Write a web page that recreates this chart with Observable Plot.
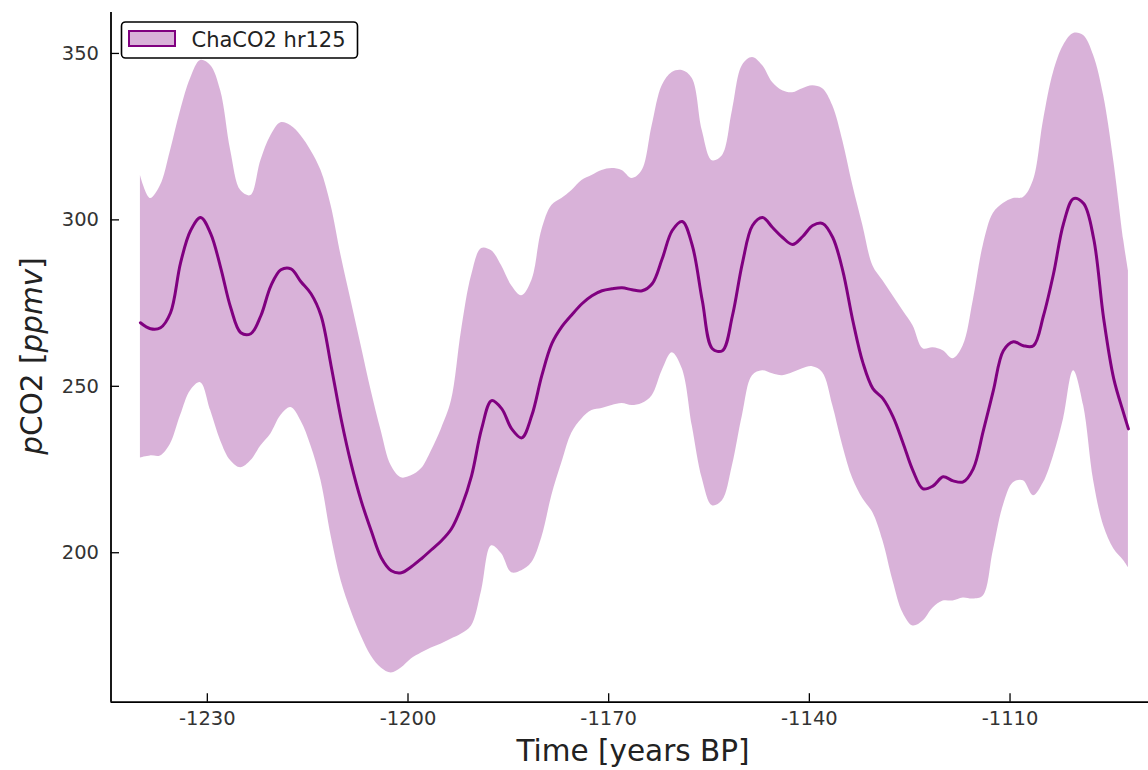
<!DOCTYPE html>
<html>
<head>
<meta charset="utf-8">
<script src="https://cdn.jsdelivr.net/npm/d3@7"></script>
<script src="https://cdn.jsdelivr.net/npm/@observablehq/plot@0.6"></script>
<style>
  body { margin: 0; background: #fff; }
  #chart { width: 1148px; height: 770px; }
</style>
</head>
<body>
<div id="chart"></div>
<script>
// Reconstructed pCO2 (ppmv) through time, with its uncertainty envelope
const years = [
  -1240, -1238.5, -1237, -1235.5, -1234, -1232.5, -1231, -1229.5, -1228, -1226.5,
  -1225, -1223.5, -1222, -1220.5, -1219, -1217.5, -1216, -1214.5, -1213, -1211.5,
  -1210, -1208.5, -1207, -1205.5, -1204, -1202.5, -1201, -1199.5, -1198, -1196.5,
  -1195, -1193.5, -1192, -1190.5, -1189, -1187.5, -1186, -1184.5, -1183, -1181.5,
  -1180, -1178.5, -1177, -1175.5, -1174, -1172.5, -1171, -1169.5, -1168, -1166.5,
  -1165, -1163.5, -1162, -1160.5, -1159, -1157.5, -1156, -1154.5, -1153, -1151.5,
  -1150, -1148.5, -1147, -1145.5, -1144, -1142.5, -1141, -1139.5, -1138, -1136.5,
  -1135, -1133.5, -1132, -1130.5, -1129, -1127.5, -1126, -1124.5, -1123, -1121.5,
  -1120, -1118.5, -1117, -1115.5, -1114, -1112.5, -1111, -1109.5, -1108, -1106.5,
  -1105, -1103.5, -1102, -1100.5, -1099, -1097.5, -1096, -1094.5, -1093, -1092.3
];

const co2Mean = [
  269.1, 267.3, 267.6, 272.1, 287.1, 296.8, 300.7, 295.9, 285.6, 273.6,
  266.1, 265.8, 271.2, 280.2, 285.0, 285.3, 281.4, 277.8, 271.2, 256.2,
  240.2, 226.7, 215.6, 206.6, 198.5, 194.6, 194.0, 195.8, 198.2, 200.9,
  203.6, 207.2, 213.8, 223.1, 237.2, 245.7, 243.3, 237.2, 234.5, 241.2,
  253.2, 262.8, 267.9, 271.5, 274.8, 277.2, 278.7, 279.3, 279.6, 279.0,
  278.7, 280.8, 288.3, 296.8, 299.5, 292.3, 275.7, 261.3, 260.7, 271.2,
  287.1, 298.3, 300.7, 297.7, 294.7, 292.6, 295.0, 298.3, 298.9, 294.7,
  284.7, 269.7, 257.1, 249.3, 246.3, 240.9, 233.0, 224.6, 219.2, 220.1,
  222.8, 221.6, 221.3, 225.2, 236.6, 248.7, 260.7, 263.4, 262.2, 262.2,
  271.2, 283.8, 298.9, 306.4, 304.9, 294.4, 270.3, 252.3, 241.8, 237.2
];

const co2Upper = [
  313.3, 306.4, 310.3, 320.8, 332.8, 342.5, 347.9, 346.4, 338.8, 320.8,
  308.8, 307.3, 317.8, 325.3, 329.2, 328.3, 325.3, 320.8, 314.8, 304.3,
  289.2, 275.7, 262.2, 248.7, 236.6, 226.1, 222.5, 223.1, 225.2, 230.6,
  237.2, 245.7, 266.7, 283.2, 291.4, 290.7, 286.2, 280.2, 277.2, 281.7,
  296.8, 304.3, 306.4, 308.8, 311.8, 313.3, 314.8, 315.4, 314.8, 312.4,
  314.8, 328.3, 340.3, 344.3, 344.9, 342.5, 326.8, 317.8, 319.3, 332.8,
  346.4, 348.8, 346.4, 341.3, 338.8, 338.2, 339.4, 340.3, 339.4, 334.3,
  323.8, 310.3, 298.3, 286.2, 281.7, 277.2, 272.7, 268.2, 261.3, 261.6,
  260.7, 258.3, 262.2, 275.7, 292.3, 301.9, 304.9, 306.4, 306.7, 311.8,
  329.8, 344.3, 352.4, 356.0, 355.4, 349.4, 337.3, 317.8, 293.8, 284.7
];

const co2Lower = [
  228.5, 229.1, 229.1, 232.7, 241.2, 248.7, 251.1, 242.7, 233.6, 227.6,
  225.5, 227.6, 232.1, 235.7, 241.2, 243.6, 239.6, 232.1, 221.6, 205.1,
  191.6, 182.5, 175.0, 169.0, 165.4, 163.9, 165.4, 168.1, 169.9, 171.4,
  172.6, 174.1, 175.6, 178.0, 188.5, 202.1, 199.7, 194.0, 194.6, 197.0,
  204.5, 217.1, 227.0, 236.0, 240.2, 242.7, 243.3, 244.2, 244.8, 244.2,
  244.8, 247.2, 254.7, 260.1, 255.3, 238.1, 222.2, 214.1, 215.6, 226.1,
  241.2, 253.2, 254.7, 253.8, 253.2, 254.1, 255.3, 255.9, 254.1, 244.2,
  232.1, 222.2, 216.2, 212.0, 203.6, 191.6, 181.9, 178.0, 179.5, 183.4,
  185.5, 185.5, 186.4, 186.1, 187.0, 200.6, 214.1, 221.0, 221.6, 217.1,
  221.0, 229.1, 240.2, 254.7, 244.2, 221.6, 208.1, 201.2, 197.6, 195.5
];

const xTicks = [-1230, -1200, -1170, -1140, -1110];
const yTicks = [200, 250, 300, 350];
const seriesLabel = "ChaCO2 hr125";
const xLabel = "Time [years BP]";

const rows = years.map((t, i) => ({t, mean: co2Mean[i], lo: co2Lower[i], hi: co2Upper[i]}));

// Frame geometry
const W = 1148, H = 770;
const mL = 110.5, mR = 0, mT = 12, mB = 68.3;
const plotW = W - mL - mR, plotH = H - mT - mB;
const xDomain = [-1244.4, -1089.3];
const yDomain = [155.1, 362.3];
const tickLen = 8.5;
const band = "purple";

const chart = Plot.plot({
  width: W,
  height: H,
  marginLeft: mL,
  marginRight: mR,
  marginTop: mT,
  marginBottom: mB,
  style: {fontFamily: "DejaVu Sans", background: "#fff", overflow: "visible"},
  x: {domain: xDomain},
  y: {domain: yDomain},
  marks: [
    Plot.areaY(rows, {x: "t", y1: "lo", y2: "hi", fill: band, fillOpacity: 0.3, curve: "catmull-rom"}),
    Plot.lineY(rows, {x: "t", y: "mean", stroke: band, strokeWidth: 3, strokeLinejoin: "round", curve: "catmull-rom"}),
    // inward-pointing ticks
    Plot.ruleX(xTicks, {insetTop: plotH - tickLen, stroke: "black", strokeWidth: 1.3}),
    Plot.ruleY(yTicks, {insetRight: plotW - tickLen, stroke: "black", strokeWidth: 1.3}),
    // left and bottom spines
    Plot.ruleX([xDomain[0]], {stroke: "black", strokeWidth: 1.8}),
    Plot.ruleY([yDomain[0]], {stroke: "black", strokeWidth: 1.8}),
    Plot.axisX(xTicks, {tickSize: 0, tickPadding: 9, fontSize: 19.5, fill: "#333", label: null, tickFormat: d => String(d)}),
    Plot.axisY(yTicks, {tickSize: 0, tickPadding: 12, fontSize: 19.5, fill: "#333", label: null, tickFormat: d => String(d)})
  ]
});

document.getElementById("chart").appendChild(chart);

const svg = d3.select(chart);

// Legend box
const lg = svg.append("g").attr("text-anchor", "start");
lg.append("rect")
  .attr("x", 121.5).attr("y", 22).attr("width", 236).attr("height", 36).attr("rx", 4)
  .attr("fill", "white").attr("stroke", "black").attr("stroke-width", 1.6);
lg.append("rect")
  .attr("x", 129).attr("y", 31).attr("width", 46).attr("height", 15)
  .attr("fill", band).attr("fill-opacity", 0.3).attr("stroke", band).attr("stroke-width", 2);
lg.append("text")
  .attr("x", 191.5).attr("y", 40).attr("dy", "0.35em")
  .attr("text-anchor", "start")
  .attr("font-size", 21).attr("fill", "#222")
  .text(seriesLabel);

// Axis titles
svg.append("text")
  .attr("x", 633).attr("y", 751).attr("dy", "0.35em")
  .attr("text-anchor", "middle").attr("font-size", 29.5).attr("fill", "#222")
  .text(xLabel);

const yt = svg.append("text")
  .attr("transform", "translate(32,356) rotate(-90)")
  .attr("dy", "0.35em")
  .attr("text-anchor", "middle").attr("font-size", 29.5).attr("fill", "#222");
yt.append("tspan").attr("font-style", "italic").text("p");
yt.append("tspan").text("CO2 [");
yt.append("tspan").attr("font-style", "italic").text("ppmv");
yt.append("tspan").text("]");
</script>
</body>
</html>
